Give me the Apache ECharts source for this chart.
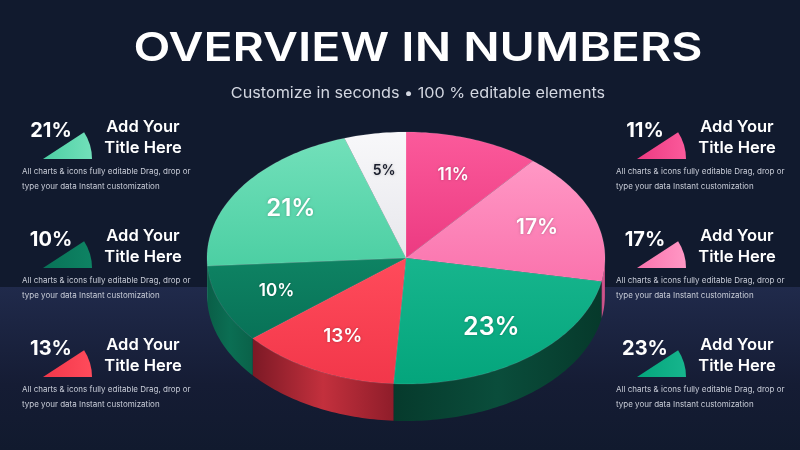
<!DOCTYPE html>
<html>
<head>
<meta charset="utf-8">
<title>Overview in numbers</title>
<script src="https://cdn.jsdelivr.net/npm/echarts@6/dist/echarts.min.js"></script>
<style>
  html, body { margin: 0; padding: 0; background: #111a2e; }
  #chart { width: 800px; height: 450px; }
</style>
</head>
<body>
<div id="chart"></div>
<script>
// slices, clockwise from 12 o'clock
const sliceNames = ['Pink', 'Light pink', 'Green', 'Red', 'Dark green', 'Mint', 'White'];
const sliceValues = [11, 17, 23, 13, 10, 21, 5];

// which slice each side card shows (top to bottom)
const leftCards = [5, 4, 3];
const rightCards = [0, 1, 2];

const titleText = 'OVERVIEW IN NUMBERS';
const subtitleText = 'Customize in seconds \u2022 100 % editable elements';
const cardTitle = ['Add Your', 'Title Here'];
const cardText = ['All charts & icons fully editable Drag, drop or', 'type your data Instant customization'];

// colours: [light, dark] for the top face, [edge, mid, edge] for the side wall
const topColors = [
  ['#fb5a9b', '#ec3a81'],
  ['#ff98c5', '#fa73ad'],
  ['#17b58d', '#04a57c'],
  ['#ff4b5b', '#f2374a'],
  ['#0e8363', '#087257'],
  ['#72e0ba', '#4ccfa3'],
  ['#f8f8fa', '#e7e7ec']
];
const wallColors = [
  ['#a82d62', '#c94a80', '#a82d62'],
  ['#b8457a', '#d0588f', '#b8457a'],
  ['#063a2c', '#0a4d3b', '#06392b'],
  ['#7c1925', '#c3303d', '#8f1d2a'],
  ['#0a5e47', '#0b6e53', '#0a6249'],
  ['#2f9a76', '#3bae88', '#2f9a76'],
  ['#b9b9c0', '#d0d0d6', '#b9b9c0']
];
const labelColors = ['#fff', '#fff', '#fff', '#fff', '#fff', '#fff', '#1b1f2e'];

const total = sliceValues.reduce((s, v) => s + v, 0);
const starts = [];
sliceValues.reduce((s, v, i) => { starts[i] = s; return s + v; }, 0);

// pie geometry (ellipse seen from above at an angle)
const CX = 406, CY = 258, RX = 199, RY = 126, DEPTH = 37;
const FONT = 'Inter, "Noto Sans", sans-serif';

function pt(t, f, dy) {
  return [CX + RX * f * Math.sin(t), CY - RY * f * Math.cos(t) + (dy || 0)];
}
function arc(a, b, dy) {
  const n = Math.max(2, Math.ceil((b - a) / 0.02));
  const out = [];
  for (let i = 0; i <= n; i++) out.push(pt(a + (b - a) * i / n, 1, dy));
  return out;
}

function renderSlice(params, api) {
  const i = params.dataIndex;
  const v = api.value(0);
  const a = api.value(1) / total * Math.PI * 2;
  const b = (api.value(1) + v) / total * Math.PI * 2;
  const children = [];

  // front wall only where the rim faces us
  const lo = Math.max(a, Math.PI / 2), hi = Math.min(b, Math.PI * 1.5);
  if (hi > lo) {
    const w = wallColors[i];
    children.push({
      type: 'polygon',
      shape: { points: arc(lo, hi, 0).concat(arc(lo, hi, DEPTH).reverse()) },
      style: {
        fill: new echarts.graphic.LinearGradient(0, 0, 1, 0, [
          { offset: 0, color: w[0] }, { offset: 0.5, color: w[1] }, { offset: 1, color: w[2] }
        ])
      }
    });
  }

  const c = topColors[i];
  children.push({
    type: 'polygon',
    shape: { points: [[CX, CY]].concat(arc(a, b, 0)) },
    style: {
      fill: new echarts.graphic.LinearGradient(0, 0, 0, 1, [
        { offset: 0, color: c[0] }, { offset: 1, color: c[1] }
      ]),
      stroke: 'rgba(255,255,255,0.18)',
      lineWidth: 0.6
    }
  });

  const lp = pt((a + b) / 2, 0.7, 0);
  children.push({
    type: 'text',
    style: {
      text: v + '%',
      x: lp[0], y: lp[1],
      align: 'center', verticalAlign: 'middle',
      fill: labelColors[i],
      fontFamily: FONT,
      fontWeight: 600,
      fontSize: Math.round(10.5 + v * 0.62),
      textShadowColor: 'rgba(0,0,0,0.25)',
      textShadowBlur: 3
    }
  });
  return { type: 'group', children: children };
}

function cardGraphics(idx, k, dx) {
  const y0 = 131 + k * 109;
  const c = topColors[idx];
  return [
    {
      type: 'sector',
      shape: { cx: 43 + dx, cy: y0 + 28, r: 49, r0: 0, startAngle: -33 * Math.PI / 180, endAngle: 0 },
      style: {
        fill: new echarts.graphic.LinearGradient(0, 0, 1, 0, [
          { offset: 0, color: c[1] }, { offset: 1, color: c[0] }
        ])
      },
      z: 5
    },
    {
      type: 'text', z: 6,
      style: { text: sliceValues[idx] + '%', x: 51 + dx, y: y0, align: 'center', verticalAlign: 'middle',
        fill: '#fff', fontFamily: FONT, fontWeight: 700, fontSize: 20 }
    },
    {
      type: 'text', z: 6,
      style: { text: cardTitle[0], x: 143 + dx, y: y0 - 4, align: 'center', verticalAlign: 'middle',
        fill: '#fff', fontFamily: FONT, fontWeight: 600, fontSize: 16.5 }
    },
    {
      type: 'text', z: 6,
      style: { text: cardTitle[1], x: 143 + dx, y: y0 + 17, align: 'center', verticalAlign: 'middle',
        fill: '#fff', fontFamily: FONT, fontWeight: 600, fontSize: 16.5 }
    },
    {
      type: 'text', z: 6,
      style: { text: cardText[0], x: 22 + dx, y: y0 + 41, align: 'left', verticalAlign: 'middle',
        fill: '#c9cdd8', fontFamily: FONT, fontSize: 8 }
    },
    {
      type: 'text', z: 6,
      style: { text: cardText[1], x: 22 + dx, y: y0 + 56, align: 'left', verticalAlign: 'middle',
        fill: '#c9cdd8', fontFamily: FONT, fontSize: 8 }
    }
  ];
}

const graphics = [
  {
    type: 'rect', z: 0, silent: true,
    shape: { x: 0, y: 287, width: 800, height: 163 },
    style: {
      fill: new echarts.graphic.LinearGradient(0, 0, 0, 1, [
        { offset: 0, color: '#202a4b' }, { offset: 0.6, color: '#151c34' }, { offset: 1, color: '#111a2e' }
      ])
    }
  },
  {
    type: 'text', z: 6, x: 418, y: 49, scaleX: 1.2,
    style: { text: titleText, x: 0, y: 0, align: 'center', verticalAlign: 'middle',
      fill: '#fff', fontFamily: FONT, fontWeight: 600, fontSize: 40 }
  },
  {
    type: 'text', z: 6, x: 418, y: 93, scaleX: 1.08,
    style: { text: subtitleText, x: 0, y: 0, align: 'center', verticalAlign: 'middle',
      fill: '#d3d7e1', fontFamily: FONT, fontSize: 15 }
  }
];
leftCards.forEach((idx, k) => graphics.push(...cardGraphics(idx, k, 0)));
rightCards.forEach((idx, k) => graphics.push(...cardGraphics(idx, k, 594)));

const chart = echarts.init(document.getElementById('chart'));
chart.setOption({
  backgroundColor: '#111a2e',
  animation: false,
  graphic: graphics,
  series: [{
    type: 'custom',
    name: 'Overview',
    coordinateSystem: 'none',
    z: 3,
    renderItem: renderSlice,
    data: sliceValues.map((v, i) => ({ name: sliceNames[i], value: [v, starts[i]] }))
  }]
});
</script>
</body>
</html>
